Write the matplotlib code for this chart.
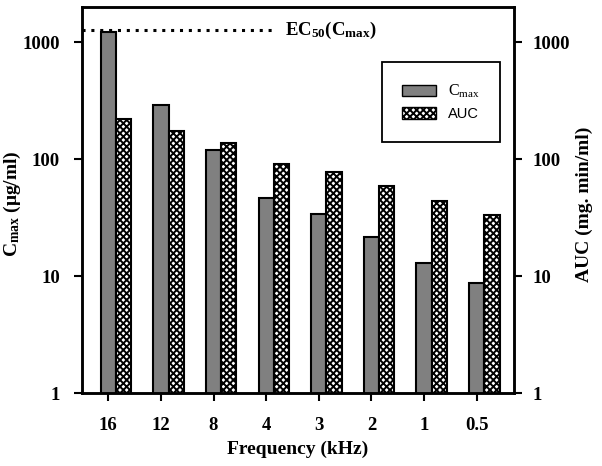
import matplotlib
matplotlib.use('Agg')
import matplotlib.pyplot as plt
import numpy as np
from matplotlib.patches import Patch

# data
freq_labels = ['16', '12', '8', '4', '3', '2', '1', '0.5']
cmax = [1225, 288, 120, 46.7, 33.7, 21.7, 12.8, 8.7]
auc = [218, 175, 136, 90, 77, 59, 43.8, 33.2]
ec50_cmax = 1265

serif = 'Liberation Serif'
plt.rcParams['hatch.linewidth'] = 1.4
plt.rcParams['mathtext.fontset'] = 'custom'
plt.rcParams['mathtext.rm'] = 'Liberation Serif'
plt.rcParams['mathtext.it'] = 'Liberation Serif:italic'
plt.rcParams['mathtext.bf'] = 'Liberation Serif:bold'

fig = plt.figure(figsize=(6.02, 4.66), dpi=100)
ax = fig.add_axes([82 / 602, 1 - 393 / 466, 432 / 602, 386 / 466])

x = np.arange(len(freq_labels))
w = 0.29
ax.bar(x, cmax, w, color='#808080', edgecolor='black', linewidth=1.5)
ax.bar(x + w, auc, w, color='white', edgecolor='black', linewidth=1.5,
       hatch='xxxxx')

ax.set_yscale('log')
ax.set_ylim(1, 10 ** 3.3)
ax.set_xlim(-0.5, 7.71)
ax.minorticks_off()

# EC50 dotted line
ax.plot([-0.5, 3.11], [ec50_cmax, ec50_cmax], color='black',
        linestyle=(0, (1, 1.9)), linewidth=2.2)
ax.text(3.36, ec50_cmax, r'EC$_{\mathbf{50}}$(C$_{\mathbf{max}}$)', fontfamily=serif,
        fontweight='bold', fontsize=13.5, va='center', ha='left')

ax.set_xticks(x)
ax.set_xticklabels(freq_labels, fontfamily=serif, fontweight='bold', fontsize=13.5)
ax.set_yticks([1, 10, 100, 1000])
ax.set_yticklabels(['1', '10', '100', '1000'], fontfamily=serif, fontweight='bold',
                   fontsize=13.5)
ax.tick_params(axis='y', direction='out', length=6, width=1.5, pad=10)
ax.tick_params(axis='x', direction='out', length=6, width=1.5, pad=11)

ax.set_xlabel('Frequency (kHz)', fontfamily=serif, fontweight='bold', fontsize=14)
ax.xaxis.set_label_coords(0.5, -(441 - 393) / 386)
ax.set_ylabel(r'C$_{\mathbf{max}}$ (μg/ml)', fontfamily=serif,
              fontweight='bold', fontsize=14)
ax.yaxis.set_label_coords((23 - 82) / 432, 0.49)

for s in ax.spines.values():
    s.set_linewidth(1.8)

# right axis with same log scale
ax2 = ax.twinx()
ax2.set_yscale('log')
ax2.set_ylim(ax.get_ylim())
ax2.minorticks_off()
ax2.set_yticks([1, 10, 100, 1000])
ax2.set_yticklabels(['1', '10', '100', '1000'], fontfamily=serif, fontweight='bold',
                    fontsize=13.5)
ax2.tick_params(direction='out', length=6, width=1.5, pad=7)
ax2.set_ylabel('AUC (mg. min/ml)', fontfamily=serif, fontweight='bold', fontsize=14)
ax2.yaxis.set_label_coords((576 - 82) / 432, 0.49)
for s in ax2.spines.values():
    s.set_linewidth(1.8)

handles = [Patch(facecolor='#808080', edgecolor='black', linewidth=1.0),
           Patch(facecolor='white', edgecolor='black', linewidth=1.0, hatch='xxxxx')]
leg = ax2.legend(handles, [r'C$_{\mathrm{max}}$', 'AUC'], loc='upper right',
                 bbox_to_anchor=((500 - 82) / 432, (393 - 62) / 386),
                 fancybox=False, edgecolor='black', framealpha=1,
                 prop={'family': 'Liberation Sans', 'size': 10.5},
                 borderpad=1.4, handlelength=2.3, handleheight=0.8,
                 labelspacing=0.5, borderaxespad=0)
leg.get_texts()[0].set_fontfamily(serif)
leg.get_texts()[0].set_fontsize(11.5)
leg.get_frame().set_linewidth(1.3)

fig.savefig('out.png', dpi=100)
